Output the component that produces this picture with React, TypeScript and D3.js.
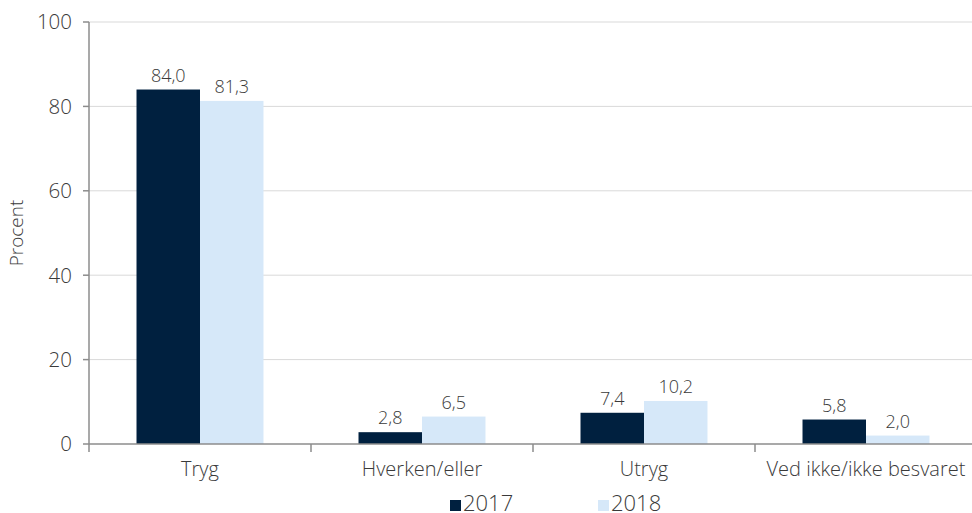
import React from "react";
import * as d3 from "d3";

const categories = ["Tryg", "Hverken/eller", "Utryg", "Ved ikke/ikke besvaret"];
const series = ["2017", "2018"];
const values2017 = [84.0, 2.8, 7.4, 5.8];
const values2018 = [81.3, 6.5, 10.2, 2.0];
const yTicks = [0, 20, 40, 60, 80, 100];
const colors = ["#00203F", "#D6E8F9"];

const W = 972;
const H = 513;
const left = 89;
const top = 22;
const bottom = 444;
const right = 977;
const FONT = "'Open Sans', 'DejaVu Sans', sans-serif";

export default function App() {
  const x = d3.scaleBand<string>().domain(categories).range([left, right]).paddingInner(0.428).paddingOuter(0.214);
  const xs = d3.scaleBand<string>().domain(series).range([0, x.bandwidth()]);
  const y = d3.scaleLinear().domain([0, 100]).range([bottom, top]);
  const step = (right - left) / categories.length;
  const data = [values2017, values2018];
  const fmt = (v: number) => v.toFixed(1).replace(".", ",");

  return (
    <svg width={W} height={H} style={{ position: "absolute", left: 0, top: 0, display: "block" }} fontFamily={FONT}>
      <rect width={W} height={H} fill="#fff" />
      {yTicks.filter((t) => t > 0).map((t) => (
        <line key={"g" + t} x1={left} x2={W} y1={y(t)} y2={y(t)} stroke="#d9d9d9" strokeWidth={1} />
      ))}
      {categories.map((c, ci) =>
        series.map((s, si) => (
          <rect key={c + s} x={(x(c) as number) + (xs(s) as number)} y={y(data[si][ci])} width={xs.bandwidth()} height={bottom - y(data[si][ci])} fill={colors[si]} />
        ))
      )}
      {categories.map((c, ci) =>
        series.map((s, si) => (
          <text key={"l" + c + s} x={(x(c) as number) + (xs(s) as number) + xs.bandwidth() / 2} y={y(data[si][ci]) - 8} textAnchor="middle" fontSize={18} fontWeight={300} fill="#3a3a3a">
            {fmt(data[si][ci])}
          </text>
        ))
      )}
      <line x1={left} x2={left} y1={top} y2={bottom} stroke="#8c8c8c" strokeWidth={1.5} />
      <line x1={left} x2={W} y1={bottom} y2={bottom} stroke="#8c8c8c" strokeWidth={1.5} />
      {yTicks.map((t) => (
        <g key={"y" + t}>
          <line x1={left - 6} x2={left} y1={y(t)} y2={y(t)} stroke="#8c8c8c" strokeWidth={1.5} />
          <text x={72} y={y(t)} dy="0.36em" textAnchor="end" fontSize={20.5} fontWeight={300} fill="#3a3a3a">{t}</text>
        </g>
      ))}
      {d3.range(categories.length).map((i) => (
        <line key={"xt" + i} x1={left + step * i} x2={left + step * i} y1={bottom} y2={bottom + 8} stroke="#8c8c8c" strokeWidth={1.5} />
      ))}
      {categories.map((c) => (
        <text key={"c" + c} x={(x(c) as number) + x.bandwidth() / 2} y={476} textAnchor="middle" fontSize={20} fontWeight={300} fill="#3a3a3a">{c}</text>
      ))}
      <text transform={`translate(23,${(top + bottom) / 2}) rotate(-90)`} textAnchor="middle" fontSize={19} fontWeight={300} fill="#3a3a3a">Procent</text>
      {series.map((s, i) => (
        <g key={"lg" + s} transform={`translate(${450 + i * 148},500)`}>
          <rect x={0} y={0} width={11} height={11} fill={colors[i]} />
          <text x={13} y={10.5} fontSize={22} fontWeight={300} fill="#3a3a3a">{s}</text>
        </g>
      ))}
    </svg>
  );
}
